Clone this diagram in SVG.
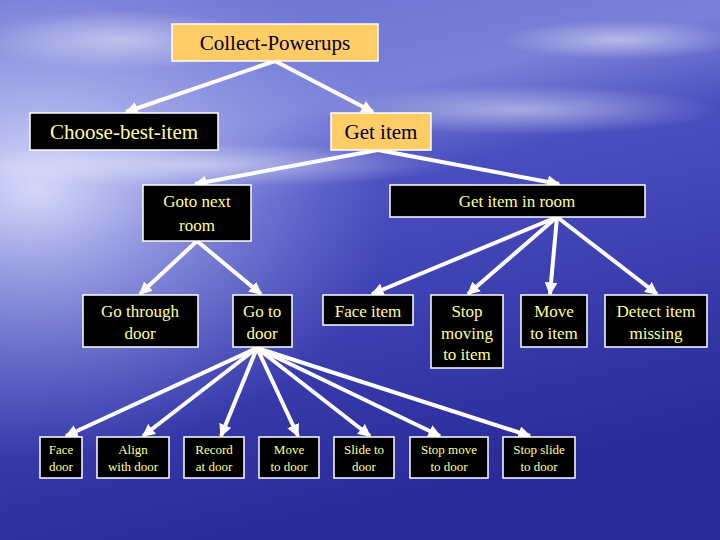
<svg xmlns="http://www.w3.org/2000/svg" width="720" height="540" viewBox="0 0 720 540">
<defs>
<linearGradient id="bg" x1="0" y1="0" x2="0.3" y2="1">
<stop offset="0" stop-color="#6b6fd0"/>
<stop offset="0.3" stop-color="#7a80d8"/>
<stop offset="0.45" stop-color="#4a4fc0"/>
<stop offset="1" stop-color="#2a2a9a"/>
</linearGradient>
<radialGradient id="glow" cx="0.05" cy="0.35" r="0.5">
<stop offset="0" stop-color="#e6e8ff" stop-opacity="0.85"/>
<stop offset="1" stop-color="#a0a8f0" stop-opacity="0"/>
</radialGradient>
<radialGradient id="cl" cx="0.5" cy="0.5" r="0.5">
<stop offset="0" stop-color="#ffffff" stop-opacity="0.45"/>
<stop offset="1" stop-color="#ffffff" stop-opacity="0"/>
</radialGradient>
<marker id="ah" viewBox="0 0 10 10" refX="9" refY="5" markerWidth="3.2" markerHeight="3.2" orient="auto" markerUnits="strokeWidth">
<path d="M0,0 L10,5 L0,10 z" fill="#fff"/>
</marker>
<style>
.b{fill:#000;stroke:#fff;stroke-width:1.5}
.o{fill:#ffcc66;stroke:#fff;stroke-width:1.5}
text{font-family:"Liberation Serif","Times New Roman",serif;text-anchor:middle}
.y{fill:#ffff99}
.k{fill:#000033}
.l1{font-size:21px}
.l2{font-size:17px}
.l4{font-size:13px}
#c line{stroke:#fff;stroke-width:4;marker-end:url(#ah)}
</style>
</defs>
<rect width="720" height="540" fill="url(#bg)"/>
<rect width="720" height="540" fill="url(#glow)"/>
<ellipse cx="120" cy="40" rx="140" ry="30" fill="url(#cl)"/>
<ellipse cx="520" cy="110" rx="200" ry="25" fill="url(#cl)"/>
<ellipse cx="620" cy="40" rx="120" ry="20" fill="url(#cl)"/>
<ellipse cx="200" cy="165" rx="260" ry="22" fill="url(#cl)"/>
<g id="c">
<line x1="275" y1="61" x2="126" y2="112"/>
<line x1="275" y1="61" x2="373" y2="112"/>
<line x1="378" y1="150" x2="195" y2="184"/>
<line x1="378" y1="150" x2="559" y2="184"/>
<line x1="197" y1="241" x2="140" y2="294"/>
<line x1="197" y1="241" x2="261" y2="294"/>
<line x1="557" y1="217" x2="372" y2="294"/>
<line x1="557" y1="217" x2="468" y2="294"/>
<line x1="557" y1="217" x2="550" y2="294"/>
<line x1="557" y1="217" x2="657" y2="294"/>
<line x1="257" y1="348" x2="66" y2="436"/>
<line x1="257" y1="348" x2="143" y2="436"/>
<line x1="257" y1="348" x2="221" y2="436"/>
<line x1="257" y1="348" x2="298" y2="436"/>
<line x1="257" y1="348" x2="370" y2="436"/>
<line x1="257" y1="348" x2="440" y2="436"/>
<line x1="257" y1="348" x2="530" y2="436"/>
</g>
<g id="n1"><rect class="o" x="172" y="24" width="206" height="37"/><text class="k l1" x="275" y="50">Collect-Powerups</text></g>
<g id="n2"><rect class="b" x="30" y="113" width="188" height="37"/><text class="y l1" x="124" y="139">Choose-best-item</text></g>
<g id="n3"><rect class="o" x="331" y="113" width="100" height="37"/><text class="k l1" x="381" y="139">Get item</text></g>
<g id="n4"><rect class="b" x="143" y="185" width="108" height="56"/><text class="y l2" x="197" y="207">Goto next</text><text class="y l2" x="197" y="231">room</text></g>
<g id="n5"><rect class="b" x="390" y="185" width="255" height="32"/><text class="y l2" x="517" y="207">Get item  in room</text></g>
<g id="n6"><rect class="b" x="83" y="295" width="115" height="52"/><text class="y l2" x="140" y="317">Go through</text><text class="y l2" x="140" y="339">door</text></g>
<g id="n7"><rect class="b" x="233" y="295" width="59" height="52"/><text class="y l2" x="262" y="317">Go to</text><text class="y l2" x="262" y="339">door</text></g>
<g id="n8"><rect class="b" x="323" y="295" width="90" height="30"/><text class="y l2" x="368" y="317">Face item</text></g>
<g id="n9"><rect class="b" x="431" y="295" width="72" height="73"/><text class="y l2" x="467" y="317">Stop</text><text class="y l2" x="467" y="339">moving</text><text class="y l2" x="467" y="360">to item</text></g>
<g id="n10"><rect class="b" x="521" y="295" width="66" height="52"/><text class="y l2" x="554" y="317">Move</text><text class="y l2" x="554" y="339">to item</text></g>
<g id="n11"><rect class="b" x="605" y="295" width="102" height="52"/><text class="y l2" x="656" y="317">Detect item</text><text class="y l2" x="656" y="339">missing</text></g>
<g id="n12"><rect class="b" x="40" y="437" width="42" height="41"/><text class="y l4" x="61" y="454">Face</text><text class="y l4" x="61" y="471">door</text></g>
<g id="n13"><rect class="b" x="97" y="437" width="72" height="41"/><text class="y l4" x="133" y="454">Align</text><text class="y l4" x="133" y="471">with door</text></g>
<g id="n14"><rect class="b" x="184" y="437" width="60" height="41"/><text class="y l4" x="214" y="454">Record</text><text class="y l4" x="214" y="471">at door</text></g>
<g id="n15"><rect class="b" x="259" y="437" width="60" height="41"/><text class="y l4" x="289" y="454">Move</text><text class="y l4" x="289" y="471">to door</text></g>
<g id="n16"><rect class="b" x="334" y="437" width="60" height="41"/><text class="y l4" x="364" y="454">Slide to</text><text class="y l4" x="364" y="471">door</text></g>
<g id="n17"><rect class="b" x="410" y="437" width="78" height="41"/><text class="y l4" x="449" y="454">Stop move</text><text class="y l4" x="449" y="471">to door</text></g>
<g id="n18"><rect class="b" x="503" y="437" width="72" height="41"/><text class="y l4" x="539" y="454">Stop slide</text><text class="y l4" x="539" y="471">to door</text></g>
</svg>
